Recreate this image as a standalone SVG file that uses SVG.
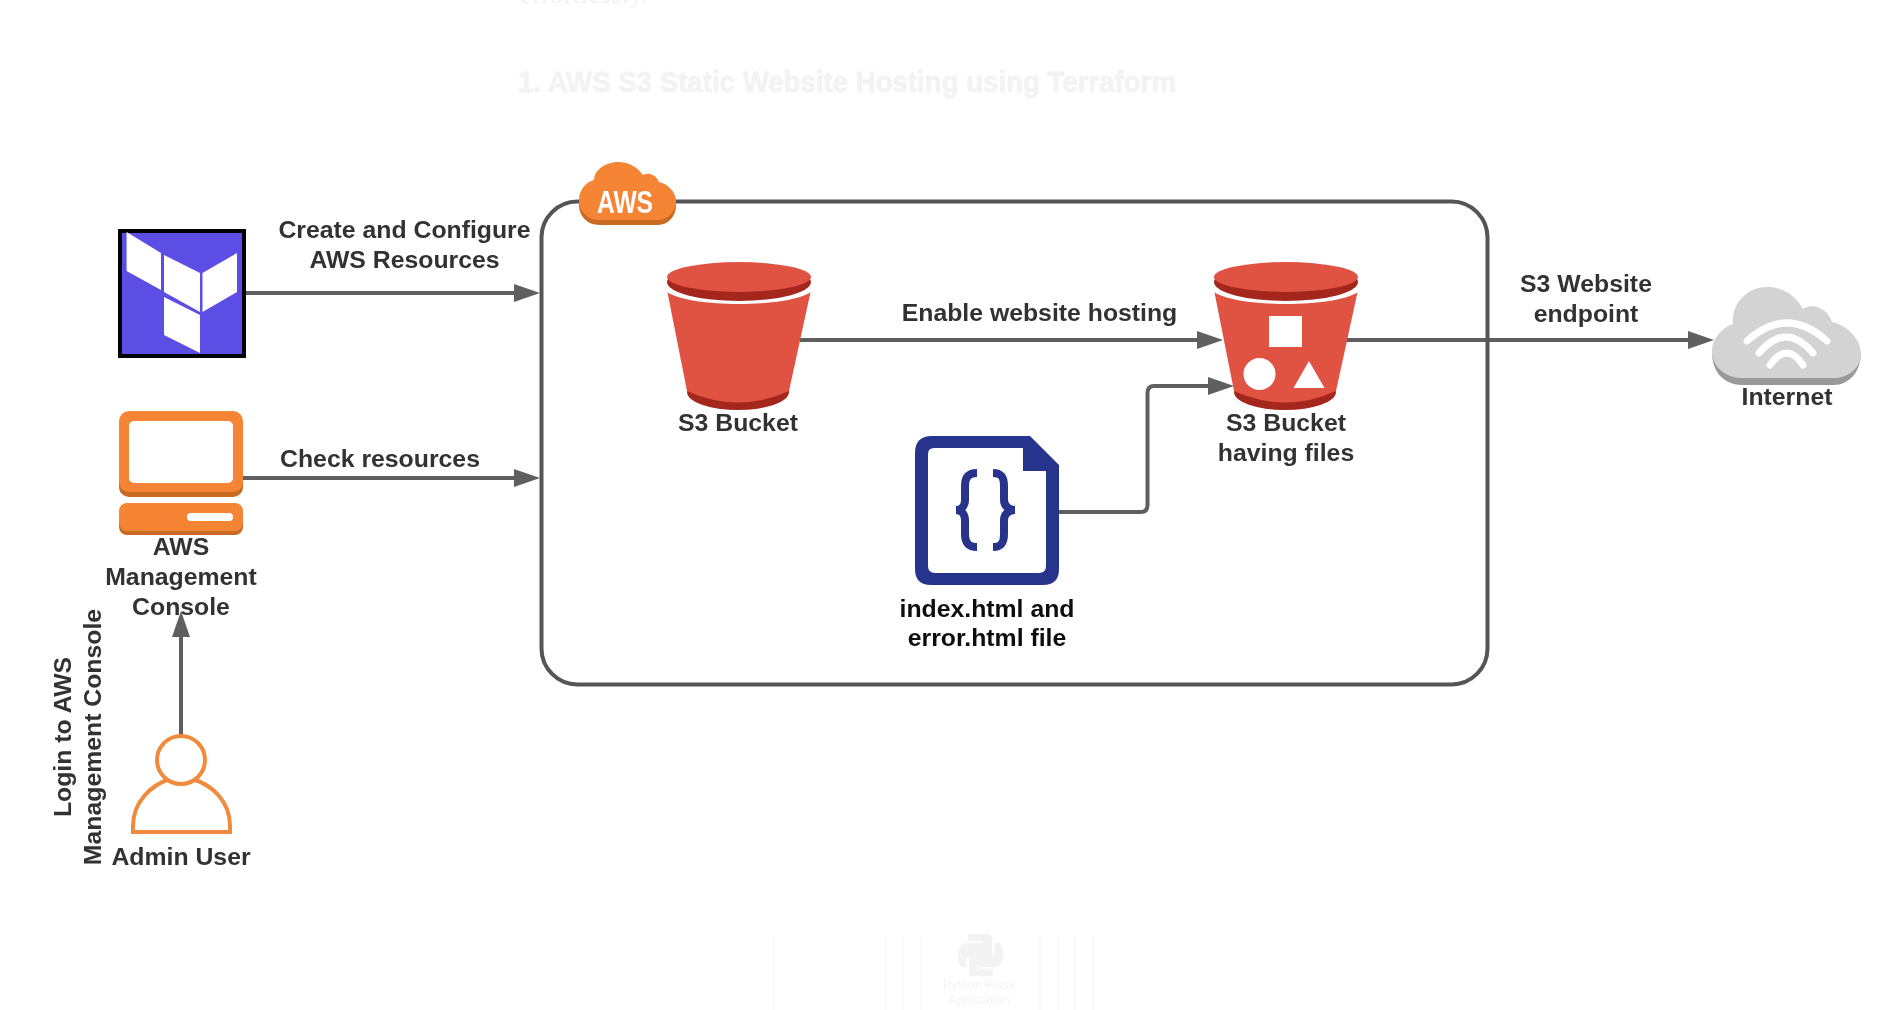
<svg xmlns="http://www.w3.org/2000/svg" width="1893" height="1010" viewBox="0 0 1893 1010">
<style>
text{font-family:"Liberation Sans",Arial,sans-serif;font-weight:bold;font-size:24.8px;fill:#333;text-anchor:middle}
.conn{fill:none;stroke:#5f5f5f;stroke-width:4;marker-end:url(#arrow)}
.ghost{fill:#f3f3f3}
.ghostl{stroke:#f9f9f9;stroke-width:1.5}
.rim{fill:#e05243}.dark{fill:#a5281c}.w{fill:#fff}
.or{fill:#f58536}.ord{fill:#c96a24}
</style>
<defs>
<filter id="soft" x="0" y="0" width="100%" height="100%"><feGaussianBlur stdDeviation="0.5"/></filter>
<marker id="arrow" markerUnits="userSpaceOnUse" viewBox="0 0 26 18" markerWidth="26" markerHeight="18" refX="1" refY="9" orient="auto"><path d="M0 0L26 9L0 18Z" fill="#5f5f5f"/></marker>
<g id="bucket">
<ellipse class="dark" cx="738" cy="392" rx="51" ry="18"/>
<path class="rim" d="M667 290C690 306 788 306 811 290L789 391Q738 414 687 391Z"/>
<path class="w" d="M667 284C690 302 788 302 811 284L811 292C788 308 690 308 667 292Z"/>
<ellipse class="dark" cx="739" cy="282" rx="72" ry="19"/>
<ellipse class="rim" cx="739" cy="277" rx="72" ry="15"/>
</g>
<path id="snake" d="M968 934H988Q992 934 992 938V952Q992 956 988 956H972Q966 956 966 962V967H962Q958 967 958 955Q958 943 968 943H982V941H968Z"/>
</defs>
<rect width="1893" height="1010" fill="#fff"/>
<g id="diagram" filter="url(#soft)">
<g id="page-ghost">
<text class="ghost" x="520" y="3" textLength="128" style="font-family:'Liberation Serif',serif;font-weight:normal;font-size:25px;text-anchor:start;fill:#f0f0f0">effortlessly.</text>
<text class="ghost" x="518" y="92" textLength="658" lengthAdjust="spacingAndGlyphs" style="font-size:30px;text-anchor:start;stroke:#f3f3f3;stroke-width:.8">1. AWS S3 Static Website Hosting using Terraform</text>
<path class="ghostl" d="M774 935V1010M886 935V1010M903 935V1010M921 935V1010M1040 935V1010M1058 935V1010M1075 935V1010M1093 935V1010"/>
<use href="#snake" class="ghost"/>
<use href="#snake" class="ghost" transform="rotate(180 980.500 955)"/>
<circle cx="987" cy="969" r="2" fill="#fff"/>
<text class="ghost" x="979" y="989" style="font-weight:normal;font-size:12.500px">Python Flask</text>
<text class="ghost" x="979" y="1004" style="font-weight:normal;font-size:12.500px">Application</text>
</g>
<g id="connectors">
<path class="conn" d="M245 293H515"/>
<path class="conn" d="M243 478H515"/>
<path class="conn" d="M181 735V636"/>
<path class="conn" d="M800 340H1198"/>
<path class="conn" d="M1059 512H1141Q1147.500 512 1147.500 505V393Q1147.500 386 1154 386H1209"/>
<path class="conn" d="M1345 340H1689"/>
</g>
<g id="aws-group">
<rect x="541.500" y="201.500" width="946" height="483" rx="36" fill="none" stroke="#555" stroke-width="4"/>
<path class="ord" d="M600 225C585 225 579 214 579 205C579 195 586 187 594 185H660C668 189 676 197 676 206C676 216 668 225 658 225Z"/>
<path class="or" d="M600 220C585 220 579 209 579 200C579 190 586 182 594 180C594 170 605 162 618 162C630 162 638 168 643 175C648 172 656 174 659 182C668 184 676 192 676 201C676 211 668 220 658 220Z"/>
<text x="625" y="213" textLength="56" lengthAdjust="spacingAndGlyphs" style="font-size:32px;fill:#fff">AWS</text>
</g>
<g id="terraform">
<rect x="120" y="231" width="124" height="125" fill="#5c4ee5" stroke="#000" stroke-width="4"/>
<path class="w" d="M126.600 232L161 253V290L126.600 271ZM164 255L200 273V312L164 292ZM202.500 273L237 253V292L202.500 312ZM164 297L200 315V353L164 335Z"/>
</g>
<text x="404.500" y="238">Create and Configure</text>
<text x="404.500" y="268">AWS Resources</text>
<g id="console">
<rect x="119" y="416" width="124" height="81" rx="10" class="ord"/>
<rect x="119" y="411" width="124" height="81" rx="10" class="or"/>
<rect x="129" y="421" width="104" height="62" rx="5" class="w"/>
<rect x="119" y="507" width="124" height="28" rx="8" class="ord"/>
<rect x="119" y="503" width="124" height="28" rx="8" class="or"/>
<rect x="187" y="513" width="46" height="8" rx="4" class="w"/>
<text x="181" y="555">AWS</text>
<text x="181" y="585">Management</text>
<text x="181" y="615">Console</text>
</g>
<text x="380" y="467">Check resources</text>
<g id="admin-user">
<path d="M133 832H230V826C230 802 213 785 192 779H170C151 785 133 802 133 826Z" fill="#fff" stroke="#f08a3c" stroke-width="4"/>
<circle cx="181" cy="760" r="24" fill="#fff" stroke="#f08a3c" stroke-width="4"/>
<text x="181" y="865">Admin User</text>
</g>
<text transform="translate(71 737) rotate(-90)">Login to AWS</text>
<text transform="translate(101 737) rotate(-90)">Management Console</text>
<g id="s3-bucket">
<use href="#bucket"/>
<text x="738" y="431">S3 Bucket</text>
</g>
<text x="1039.500" y="321">Enable website hosting</text>
<g id="s3-bucket-files">
<use href="#bucket" x="547"/>
<rect class="w" x="1269" y="316" width="33" height="31"/>
<circle class="w" cx="1259.500" cy="374" r="16"/>
<path class="w" d="M1309 361L1324.500 388H1293.500Z"/>
<text x="1286" y="431">S3 Bucket</text>
<text x="1286" y="461">having files</text>
</g>
<g id="html-file">
<path d="M932 436H1030L1059 465V569Q1059 585 1043 585H931Q915 585 915 569V453Q915 436 932 436Z" fill="#27348b"/>
<path class="w" d="M934 448H1023V471H1046V566Q1046 573 1039 573H935Q928 573 928 566V454Q928 448 934 448Z"/>
<path d="M977 473C968 473 965 478 965 486V500C965 506 961 510 956 510C961 510 965 514 965 520V534C965 542 968 547 977 547M993 473C1002 473 1004 478 1004 486V500C1004 506 1009 510 1015 510C1009 510 1004 514 1004 520V534C1004 542 1002 547 993 547" fill="none" stroke="#27348b" stroke-width="8"/>
<text x="987" y="617" style="fill:#111">index.html and</text>
<text x="987" y="646" style="fill:#111">error.html file</text>
</g>
<text x="1586" y="292">S3 Website</text>
<text x="1586" y="322">endpoint</text>
<g id="internet">
<path fill="#999" d="M1742 385C1725 385 1712 373 1712 352H1861C1861 373 1848 385 1834 385Z"/>
<path fill="#d3d3d3" d="M1742 378C1725 378 1712 366 1712 352C1712 338 1722 328 1733 324C1731 303 1748 287 1767 287C1783 287 1795 295 1803 309C1812 303 1827 307 1832 322C1849 326 1861 340 1861 354C1861 368 1848 378 1834 378Z"/>
<path d="M1747 341Q1787 305 1827 341M1759 353Q1786 321 1813 353M1770 365Q1787 341 1803 365" fill="none" stroke="#fff" stroke-width="7" stroke-linecap="round"/>
<text x="1787" y="405">Internet</text>
</g>
</g>
</svg>
